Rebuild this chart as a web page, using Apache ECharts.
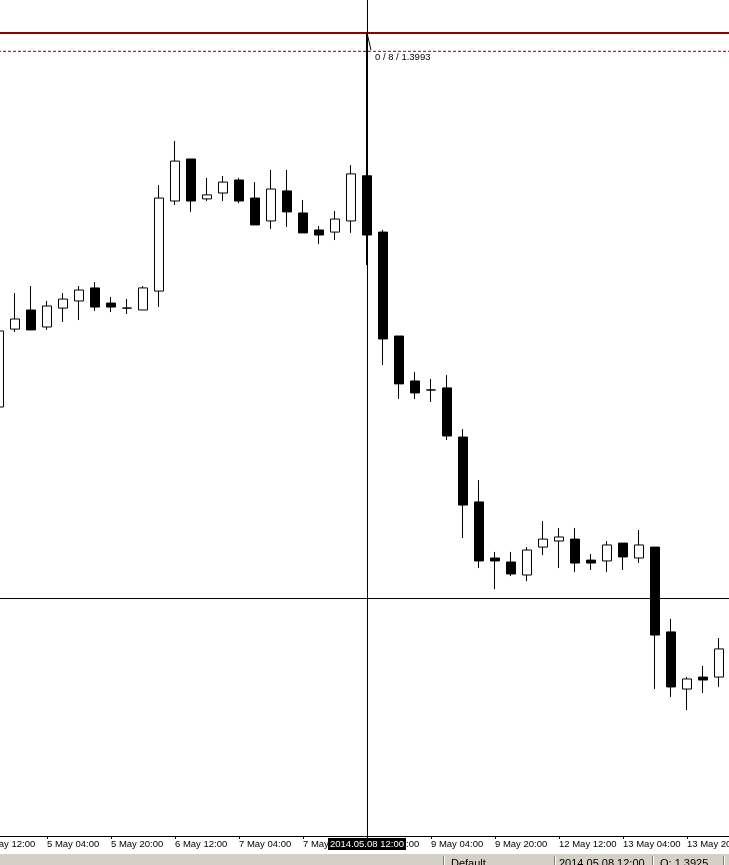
<!DOCTYPE html>
<html><head><meta charset="utf-8">
<script src="https://cdn.jsdelivr.net/npm/echarts@6/dist/echarts.min.js"></script>
<style>html,body{margin:0;padding:0;background:#fff;overflow:hidden}#c{width:729px;height:865px;}</style>
</head><body><div id="c"></div>
<script>
// H4 candle times (EURUSD)
const times = ['2 May 12:00','2 May 16:00','2 May 20:00','5 May 00:00','5 May 04:00','5 May 08:00','5 May 12:00','5 May 16:00',
 '5 May 20:00','6 May 00:00','6 May 04:00','6 May 08:00','6 May 12:00','6 May 16:00','6 May 20:00','7 May 00:00',
 '7 May 04:00','7 May 08:00','7 May 12:00','7 May 16:00','7 May 20:00','8 May 00:00','8 May 04:00','8 May 08:00',
 '8 May 12:00','8 May 16:00','8 May 20:00','9 May 00:00','9 May 04:00','9 May 08:00','9 May 12:00','9 May 16:00',
 '9 May 20:00','12 May 00:00','12 May 04:00','12 May 08:00','12 May 12:00','12 May 16:00','12 May 20:00','13 May 00:00',
 '13 May 04:00','13 May 08:00','13 May 12:00','13 May 16:00','13 May 20:00','14 May 00:00','14 May 04:00','14 May 08:00'];
const opens  = ['-',1.38149,1.38520,1.38611,1.38530,1.38620,1.38654,1.38716,1.38644,1.38620,1.38611,1.38701,1.39130,1.39330,1.39140,1.39168,
 1.39230,1.39144,1.39035,1.39178,1.39073,1.38992,1.38982,1.39035,1.39250,1.38982,1.38487,1.38273,1.38230,1.38240,1.38006,1.37697,
 1.37430,1.37411,1.37349,1.37482,1.37511,1.37520,1.37420,1.37416,1.37501,1.37430,1.37482,1.37078,1.36806,1.36863,1.36863,'-'];
const closes = ['-',1.38511,1.38568,1.38516,1.38630,1.38663,1.38706,1.38625,1.38625,1.38620,1.38716,1.39144,1.39320,1.39130,1.39159,1.39220,
 1.39130,1.39016,1.39187,1.39078,1.38978,1.38968,1.39044,1.39259,1.38968,1.38473,1.38259,1.38216,1.38230,1.38011,1.37682,1.37416,
 1.37416,1.37354,1.37468,1.37520,1.37530,1.37406,1.37406,1.37492,1.37435,1.37492,1.37063,1.36816,1.36854,1.36849,1.36997,'-'];
const lows   = ['-',1.38135,1.38506,1.38516,1.38516,1.38554,1.38563,1.38606,1.38601,1.38592,1.38611,1.38625,1.39111,1.39078,1.39130,1.39130,
 1.39120,1.39016,1.38997,1.39006,1.38978,1.38925,1.38944,1.38978,1.38825,1.38349,1.38187,1.38187,1.38173,1.37992,1.37525,1.37382,
 1.37282,1.37344,1.37320,1.37444,1.37382,1.37363,1.37373,1.37363,1.37373,1.37406,1.36806,1.36768,1.36706,1.36787,1.36816,'-'];
const highs  = ['-',1.38540,1.38692,1.38725,1.38654,1.38692,1.38725,1.38744,1.38673,1.38663,1.38725,1.39206,1.39416,1.39330,1.39240,1.39249,
 1.39240,1.39220,1.39278,1.39278,1.39135,1.39011,1.39082,1.39301,1.39930,1.38992,1.38487,1.38316,1.38282,1.38301,1.38044,1.37801,
 1.37459,1.37459,1.37482,1.37606,1.37573,1.37573,1.37449,1.37511,1.37501,1.37563,1.37482,1.37140,1.36863,1.36916,1.37049,'-'];

const crossTime = '8 May 12:00';
const crossPrice = 1.37237;
const levelSolid = 1.39930;
const levelDashed = 1.39842;
const crossLabel = '2014.05.08 12:00';
const measureText = '0 / 8 / 1.3993';
const statusTexts = ['Default', '2014.05.08 12:00', 'O: 1.3925'];
const priceMin = 1.361062, priceMax = 1.400871;

const FONT = "'Liberation Sans', Arial, sans-serif";
const chart = echarts.init(document.getElementById('c'), null, {renderer: 'canvas'});
const crossIdx = times.indexOf(crossTime);
const flat = v => times.map(() => v);

const option = {
  animation: false,
  backgroundColor: '#ffffff',
  grid: {left: -25, right: -14, top: 0, bottom: 29, containLabel: false, outerBoundsMode: 'none'},
  xAxis: {
    type: 'category', data: times, boundaryGap: true,
    axisLine: {show: true, lineStyle: {color: '#000', width: 1}},
    axisTick: {show: true, interval: 3, alignWithLabel: true, length: 3, lineStyle: {color: '#000'}},
    axisLabel: {interval: 3, align: 'left', margin: 3, color: '#000', fontSize: 9.5, fontFamily: FONT, hideOverlap: false},
    splitLine: {show: false}
  },
  yAxis: {type: 'value', min: priceMin, max: priceMax, show: false, splitLine: {show: false}},
  series: [
    {type: 'line', data: flat(levelSolid), symbol: 'none', silent: true, z: 1, color: '#8b0000',
     lineStyle: {color: '#8b0000', width: 2}},
    {type: 'line', data: flat(levelDashed), symbol: 'none', silent: true, z: 1, color: '#e01818',
     lineStyle: {color: '#e01818', width: 1.2, type: [3, 2]}},
    {type: 'line', data: flat(crossPrice), symbol: 'none', silent: true, z: 1, color: '#000',
     lineStyle: {color: '#000', width: 1}},
    {
    type: 'candlestick',
    barWidth: 10, z: 3,
    data: times.map((t, i) => [opens[i], closes[i], lows[i], highs[i]]),
    itemStyle: {color: '#ffffff', color0: '#000000', borderColor: '#000000', borderColor0: '#000000', borderWidth: 1},
    markLine: {
      silent: true, symbol: ['none', 'none'], animation: false,
      data: [
        {xAxis: crossIdx, lineStyle: {color: '#000', width: 1, type: 'solid'},
         label: {show: true, position: 'start', distance: 2, formatter: crossLabel, color: '#fff',
                 backgroundColor: '#000', padding: [1, 2, 1, 2], fontSize: 9.5, fontFamily: FONT}}
      ]
    }
  }]
};
chart.setOption(option);

const p = chart.convertToPixel({gridIndex: 0}, [crossIdx, levelSolid]);
const W = 729, H = 865;
const sepX = [443, 554, 652, 723];
const txtX = [451, 559, 660];
const g = [
  {type: 'polyline', shape: {points: [[p[0], p[1]], [p[0] + 4, p[1] + 17]]}, style: {stroke: '#000', lineWidth: 1, fill: null}, z: 100},
  {type: 'text', x: p[0] + 8, y: p[1] + 19, style: {text: measureText, fill: '#000', font: '9.5px ' + FONT, textVerticalAlign: 'top'}, z: 100},
  {type: 'rect', shape: {x: 0, y: 853, width: W, height: H - 853}, style: {fill: '#d4d0c8'}, z: 100},
  {type: 'line', shape: {x1: 0, y1: 853.5, x2: W, y2: 853.5}, style: {stroke: '#ffffff', lineWidth: 1}, z: 101}
];
sepX.forEach(x => {
  g.push({type: 'line', shape: {x1: x + 0.5, y1: 856, x2: x + 0.5, y2: H}, style: {stroke: '#808080', lineWidth: 1}, z: 101});
  g.push({type: 'line', shape: {x1: x + 1.5, y1: 856, x2: x + 1.5, y2: H}, style: {stroke: '#ffffff', lineWidth: 1}, z: 101});
});
statusTexts.forEach((t, i) => {
  g.push({type: 'text', x: txtX[i], y: 858, style: {text: t, fill: '#000', font: '11px ' + FONT, textVerticalAlign: 'top'}, z: 102});
});
chart.setOption({graphic: g});
</script>
</body></html>
